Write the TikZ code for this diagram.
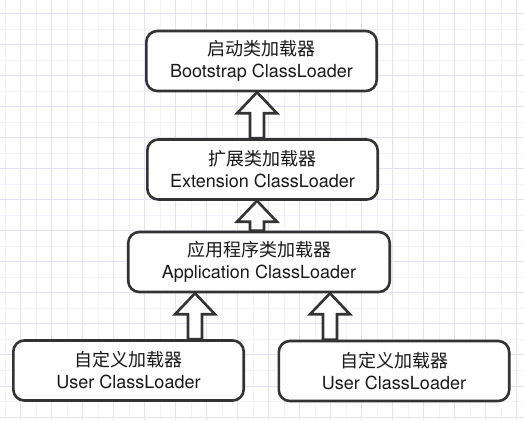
\documentclass[tikz,border=0pt]{standalone}
\usepackage{fontspec}
\setmainfont{TeX Gyre Heros}
\newfontfamily\cjk{Noto Sans CJK SC}
\usepackage{tikz}
\usetikzlibrary{calc}
\definecolor{gridmajor}{RGB}{230,226,246}
\definecolor{gridminor}{RGB}{243,241,251}
\definecolor{edge}{RGB}{51,51,51}
\tikzset{
  loader/.style={draw=edge, line width=2.6pt, rounded corners=11pt, fill=white,
    minimum width=230.4pt, minimum height=60pt, inner sep=0pt, align=center,
    font=\fontsize{18}{22}\selectfont, text=black!90},
  hollow/.style={draw=edge, line width=2.6pt, fill=white}
}
\newcommand{\hollowup}[3]{%
  \draw[hollow] let \p1=(#2.north), \p2=(#3.south) in
    (#1pt-7pt,\y1) -- (#1pt-7pt,\y2-21pt) -- (#1pt-20pt,\y2-21pt) -- (#1pt,\y2)
    -- (#1pt+20pt,\y2-21pt) -- (#1pt+7pt,\y2-21pt) -- (#1pt+7pt,\y1) -- cycle;}

\begin{document}
\begin{tikzpicture}[x=1pt,y=1pt]
\useasboundingbox[fill=white] (0,0) rectangle (524,420);
\foreach \g in {5.2,36.2,...,524} \draw[gridminor, line width=1pt] (\g,0) -- (\g,420);
\foreach \g in {390.5,359.5,...,0} \draw[gridminor, line width=1pt] (0,\g) -- (524,\g);
\foreach \g in {20.7,51.7,...,524} \draw[gridmajor, line width=1pt] (\g,0) -- (\g,420);
\foreach \g in {406,375,...,0} \draw[gridmajor, line width=1pt] (0,\g) -- (524,\g);

\node[loader] (boot) at (261.5,359) {{\cjk 启动类加载器}\\Bootstrap ClassLoader};
\node[loader] (ext) at (262.5,250.5) {{\cjk 扩展类加载器}\\Extension ClassLoader};
\node[loader, minimum width=261.5pt] (app) at (259,158) {{\cjk 应用程序类加载器}\\Application ClassLoader};
\node[loader] (userA) at (128.5,49.5) {{\cjk 自定义加载器}\\User ClassLoader};
\node[loader] (userB) at (394,49) {{\cjk 自定义加载器}\\User ClassLoader};

\hollowup{257}{ext}{boot}
\hollowup{257}{app}{ext}
\hollowup{195}{userA}{app}
\hollowup{330}{userB}{app}
\end{tikzpicture}
\end{document}
